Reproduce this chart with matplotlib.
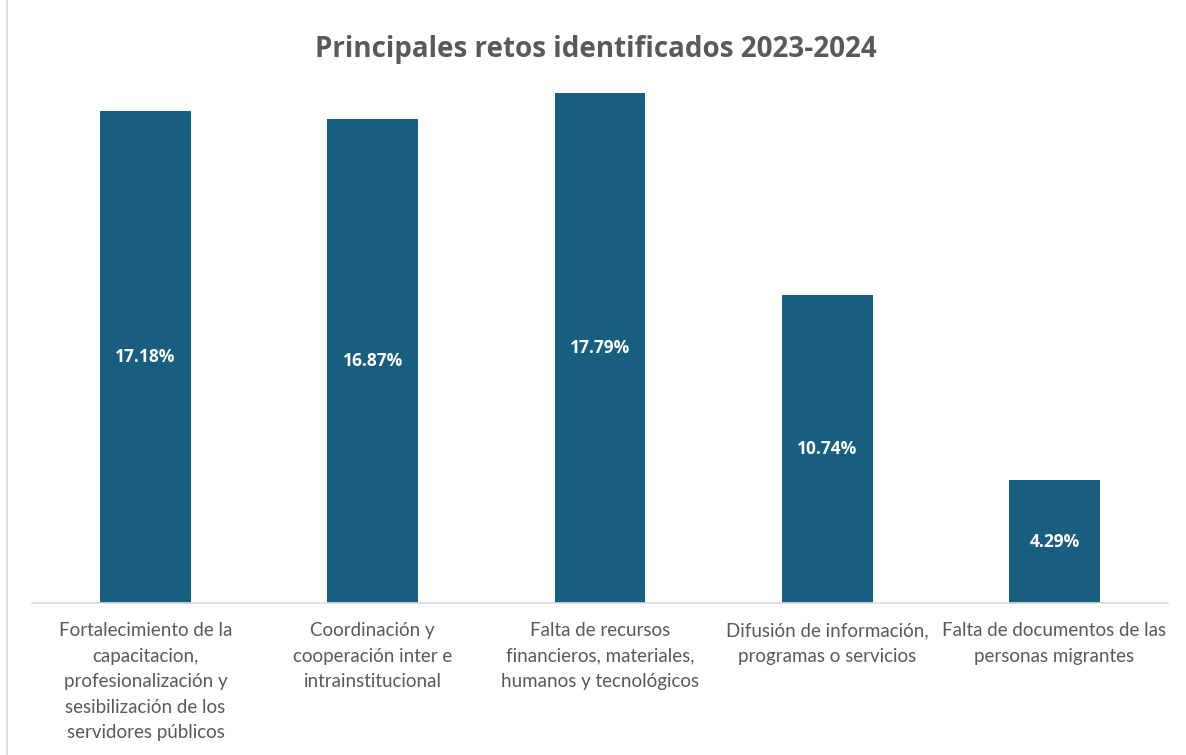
import matplotlib
import matplotlib.pyplot as plt
from matplotlib.lines import Line2D

matplotlib.use("Agg", force=True)

categories = [
    "Fortalecimiento de la\ncapacitacion,\nprofesionalización y\nsesibilización de los\nservidores públicos",
    "Coordinación y\ncooperación inter e\nintrainstitucional",
    "Falta de recursos\nfinancieros, materiales,\nhumanos y tecnológicos",
    "Difusión de información,\nprogramas o servicios",
    "Falta de documentos de las\npersonas migrantes",
]
values = [17.18, 16.87, 17.79, 10.74, 4.29]

bar_color = "#175e7f"
text_gray = "#595959"

fig = plt.figure(figsize=(11.86, 7.55), dpi=100)
ax = fig.add_axes([32 / 1186, 152 / 755, 1136 / 1186, 516 / 755])

x = list(range(len(values)))
bars = ax.bar(x, values, width=0.40, color=bar_color)
for rect, v in zip(bars, values):
    ax.text(
        rect.get_x() + rect.get_width() / 2,
        v / 2,
        f"{v:.2f}%",
        ha="center",
        va="center",
        color="white",
        fontsize=12.5,
        fontweight="bold",
        family="Open Sans",
    )

ax.set_xlim(-0.5, len(values) - 0.5)
ax.set_ylim(0, 18)
ax.set_yticks([])
ax.set_xticks(x)
ax.set_xticklabels(categories, fontsize=13.5, color=text_gray, family="Lato", linespacing=1.6)
ax.tick_params(axis="x", length=0, pad=14)
for side in ("top", "right", "left"):
    ax.spines[side].set_visible(False)
ax.spines["bottom"].set_color("#d9d9d9")
ax.spines["bottom"].set_linewidth(1.2)

fig.text(
    0.502,
    1 - 50 / 755,
    "Principales retos identificados 2023-2024",
    ha="center",
    va="center",
    fontsize=20,
    fontweight="bold",
    color=text_gray,
    family="Open Sans",
)

fig.add_artist(Line2D([7 / 1186, 7 / 1186], [0, 1], transform=fig.transFigure, color="#d9d9d9", linewidth=1.2))

fig.savefig("out.png", dpi=100)
plt.close(fig)
